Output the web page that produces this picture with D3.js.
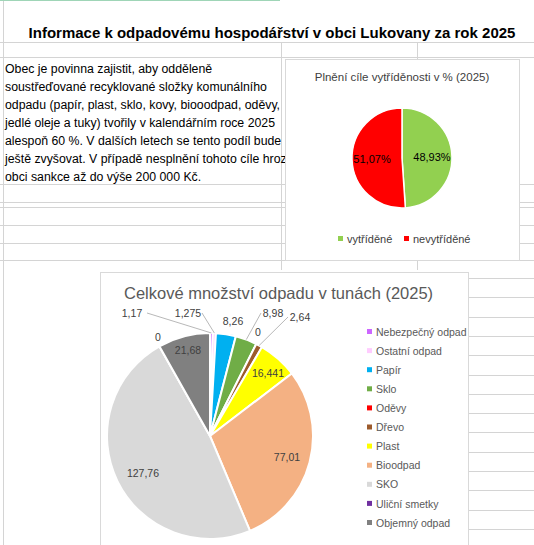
<!DOCTYPE html>
<html><head><meta charset="utf-8">
<script src="https://cdn.jsdelivr.net/npm/d3@7"></script>
<style>body{margin:0;background:#fff}svg{font-family:"Liberation Sans",Arial,sans-serif}</style>
</head><body><div id="chart"></div>
<script>
const sortCats = ['vytříděné', 'nevytříděné'];
const sortVals = [48.93, 51.07];
const sortColors = ['#92d050', '#ff0000'];

const wasteCats = ['Nebezpečný odpad', 'Ostatní odpad', 'Papír', 'Sklo', 'Oděvy', 'Dřevo', 'Plast', 'Bioodpad', 'SKO', 'Uliční smetky', 'Objemný odpad'];
const wasteVals = [1.17, 1.275, 8.26, 8.98, 0, 2.64, 16.441, 77.01, 127.76, 0, 21.68];
const wasteLabels = ['1,17', '1,275', '8,26', '8,98', '0', '2,64', '16,441', '77,01', '127,76', '0', '21,68'];
const wasteColors = ['#cc66ff', '#ffccff', '#00b0f0', '#70ad47', '#ff0000', '#9c5a2c', '#ffff00', '#f4b183', '#d9d9d9', '#7030a0', '#808080'];

const intro = ['Obec je povinna zajistit, aby odděleně', 'soustřeďované recyklované složky komunálního',
  'odpadu (papír, plast, sklo, kovy, biooodpad, oděvy,', 'jedlé oleje a tuky) tvořily v kalendářním roce 2025',
  'alespoň 60 %. V dalších letech se tento podíl bude', 'ještě zvyšovat. V případě nesplnění tohoto cíle hrozí',
  'obci sankce až do výše 200 000 Kč.'];

// label placement for the big pie (text anchor point, leader line yes/no)
const labelPos = [[132,317,true],[188,317,true],[233,325,false],[273,317,true],[258,336,false],[300,321,true],
  [268,377,false],[287,461,false],[143,477,false],[158,341,false],[188,354,false]];

const W = 534, H = 545;
const svg = d3.select('#chart').append('svg').attr('width', W).attr('height', H);

// spreadsheet grid
const grid = svg.append('g').attr('stroke', '#d4d4d4').attr('stroke-width', 1);
[42, 57, 184, 202, 207, 225, 243, 260].forEach(y => grid.append('line').attr('x1', 0).attr('x2', W).attr('y1', y + .5).attr('y2', y + .5));
d3.range(278, 545, 19.3).forEach(y => grid.append('line').attr('x1', 468).attr('x2', W).attr('y1', Math.round(y) + .5).attr('y2', Math.round(y) + .5));
[281, 417].forEach(x => grid.append('line').attr('x1', x + .5).attr('x2', x + .5).attr('y1', 42).attr('y2', 270));
grid.append('line').attr('x1', 3.5).attr('x2', 3.5).attr('y1', 0).attr('y2', H);
svg.append('line').attr('x1', 0).attr('x2', 280).attr('y1', 0.5).attr('y2', 0.5).attr('stroke', '#9fd5b7');

svg.append('text').attr('x', 272).attr('y', 38).attr('text-anchor', 'middle')
  .style('font-size', '15px').style('font-weight', 'bold').text('Informace k odpadovému hospodářství v obci Lukovany za rok 2025');

svg.append('g').selectAll('text').data(intro).enter().append('text')
  .attr('x', 5).attr('y', (d, i) => 73 + i * 18).style('font-size', '12.3px').text(d => d);

// small chart
svg.append('rect').attr('x', 285.5).attr('y', 59.5).attr('width', 234).attr('height', 201).attr('fill', '#fff').attr('stroke', '#d9d9d9');
svg.append('text').attr('x', 402).attr('y', 81).attr('text-anchor', 'middle').style('font-size', '11.5px').attr('fill', '#404040')
  .text('Plnění cíle vytříděnosti v % (2025)');
const g1 = svg.append('g').attr('transform', 'translate(402,158)');
const pie1 = d3.pie().sort(null).value(d => d);
const arc1 = d3.arc().innerRadius(0).outerRadius(50);
const arcs1 = g1.selectAll('g').data(pie1(sortVals)).enter().append('g');
arcs1.append('path').attr('d', arc1).attr('fill', (d, i) => sortColors[i]).attr('stroke', '#fff').attr('stroke-width', 1.5);
arcs1.append('text').attr('transform', d => `translate(${d3.arc().innerRadius(0).outerRadius(60).centroid(d)})`)
  .attr('dy', '0.35em').attr('text-anchor', 'middle').style('font-size', '11px')
  .text((d, i) => sortVals[i].toFixed(2).replace('.', ',') + '%');
const lg1 = svg.append('g').selectAll('g').data(sortCats).enter().append('g')
  .attr('transform', (d, i) => `translate(${338 + i * 66},243)`);
lg1.append('rect').attr('x', 0).attr('y', -7).attr('width', 5).attr('height', 5).attr('fill', (d, i) => sortColors[i]);
lg1.append('text').attr('x', 9).attr('y', 0).style('font-size', '11px').attr('fill', '#404040').text(d => d);

// big chart
svg.append('rect').attr('x', 100.5).attr('y', 272.5).attr('width', 368).attr('height', 280).attr('fill', '#fff').attr('stroke', '#d9d9d9');
svg.append('text').attr('x', 124).attr('y', 299).style('font-size', '16.5px').attr('fill', '#595959')
  .text('Celkové množství odpadu v tunách (2025)');
const cx = 210, cy = 436, r = 103;
const g2 = svg.append('g').attr('transform', `translate(${cx},${cy})`);
const pie2 = d3.pie().sort(null).value(d => d);
const arc2 = d3.arc().innerRadius(0).outerRadius(r);
const slices = pie2(wasteVals);
g2.selectAll('path').data(slices).enter().append('path').attr('d', arc2)
  .attr('fill', (d, i) => wasteColors[i]).attr('stroke', '#fff').attr('stroke-width', 2);
const edge = d3.arc().innerRadius(r).outerRadius(r);
slices.forEach((d, i) => {
  const [lx, ly, lead] = labelPos[i];
  if (lead) {
    const p = edge.centroid(d);
    const tx = lx - cx + (lx < cx + 0 ? 14 : -13), ty = ly - cy - 4;
    svg.append('polyline').attr('fill', 'none').attr('stroke', '#a6a6a6').attr('stroke-width', 0.8)
      .attr('points', `${lx + (i === 0 ? 15 : (i === 1 ? 14 : -12))},${ly - 4} ${cx + p[0]},${cy + p[1]}`);
  }
  svg.append('text').attr('x', lx).attr('y', ly).attr('text-anchor', 'middle').style('font-size', '10.5px')
    .attr('fill', '#404040').text(wasteLabels[i]);
});
const lg2 = svg.append('g').selectAll('g').data(wasteCats).enter().append('g')
  .attr('transform', (d, i) => `translate(367,${332 + i * 19.1})`);
lg2.append('rect').attr('x', 0).attr('y', -3).attr('width', 5).attr('height', 5).attr('fill', (d, i) => wasteColors[i]);
lg2.append('text').attr('x', 9).attr('y', 0).attr('dy', '0.35em').style('font-size', '10.5px').attr('fill', '#595959').text(d => d);
</script></body></html>
